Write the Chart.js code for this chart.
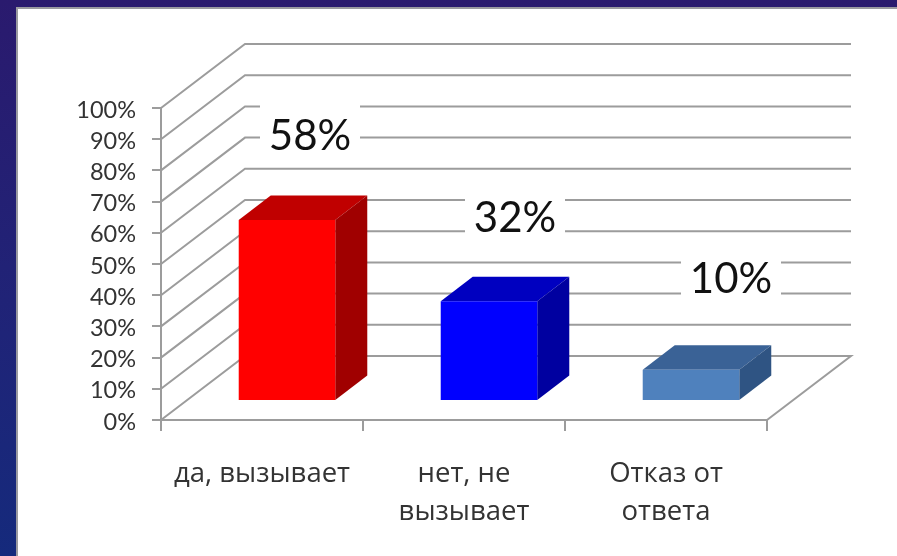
<!DOCTYPE html>
<html><head><meta charset="utf-8">
<style>
html,body{margin:0;padding:0;width:897px;height:556px;overflow:hidden;background:linear-gradient(180deg,#2a1a6e 0%,#1f2478 60%,#152a7c 100%)}
#panel{position:absolute;left:16px;top:7px;right:0;bottom:0;background:#fff;border-left:2px solid #9a9aa0;border-top:2px solid #9a9aa0}
#wrap{position:absolute;left:0;top:0;width:897px;height:556px}
</style>
<script src="https://cdn.jsdelivr.net/npm/chart.js@4"></script>
</head><body>
<div id="panel"></div>
<div id="wrap"><canvas id="c" width="897" height="556"></canvas></div>
<script>
const categories = [["да, вызывает"], ["нет, не", "вызывает"], ["Отказ от", "ответа"]];
const values = [58, 32, 10];
const frontColors = ["#ff0000", "#0000ff", "#4f81bd"];
const topColors = ["#c00000", "#0000c0", "#3a6296"];
const sideColors = ["#a00000", "#0000a0", "#2f5483"];
const yTicks = [0,10,20,30,40,50,60,70,80,90,100];

const WALL_DX = 84, WALL_DY = -64, WALL_RIGHT = 851;
const BAR_DX = 25, BAR_DY = -19, DEPTH_DX = 32, DEPTH_DY = -24.5;
const GRID = "#9c9c9c";
const labelPos = [[310,136],[515,218],[731,279]];

const threeD = {
  id: "threeD",
  beforeDatasetsDraw(chart) {
    const {ctx, scales: {y}, chartArea: a} = chart;
    ctx.save();
    ctx.strokeStyle = GRID; ctx.lineWidth = 2; ctx.lineJoin = "miter";
    yTicks.forEach(v => {
      const p = y.getPixelForValue(v);
      ctx.beginPath();
      ctx.moveTo(a.left, p);
      ctx.lineTo(a.left + WALL_DX, p + WALL_DY);
      ctx.lineTo(WALL_RIGHT, p + WALL_DY);
      if (v === 0) ctx.lineTo(a.right, p);
      ctx.stroke();
    });
    const meta = chart.getDatasetMeta(0);
    meta.data.forEach((b, i) => {
      const l = b.x - b.width / 2 + BAR_DX, r = b.x + b.width / 2 + BAR_DX;
      const t = b.y + BAR_DY, bt = b.base + BAR_DY;
      ctx.fillStyle = topColors[i];
      ctx.beginPath();
      ctx.moveTo(l, t); ctx.lineTo(l + DEPTH_DX, t + DEPTH_DY);
      ctx.lineTo(r + DEPTH_DX, t + DEPTH_DY); ctx.lineTo(r, t); ctx.closePath(); ctx.fill();
      ctx.fillStyle = sideColors[i];
      ctx.beginPath();
      ctx.moveTo(r, t); ctx.lineTo(r + DEPTH_DX, t + DEPTH_DY);
      ctx.lineTo(r + DEPTH_DX, bt + DEPTH_DY); ctx.lineTo(r, bt); ctx.closePath(); ctx.fill();
    });
    ctx.restore();
  },
  beforeDatasetDraw(chart) {
    chart.ctx.save();
    chart.ctx.translate(BAR_DX, BAR_DY);
  },
  afterDatasetDraw(chart) {
    chart.ctx.restore();
  },
  afterDatasetsDraw(chart) {
    const {ctx} = chart;
    ctx.save();
    ctx.font = "42px Lato";
    ctx.textAlign = "center"; ctx.textBaseline = "middle";
    values.forEach((v, i) => {
      const [x, y] = labelPos[i];
      ctx.fillStyle = "#fff";
      ctx.fillRect(x - 50, y - 33, 100, 61);
      ctx.fillStyle = "#111";
      ctx.fillText(v + "%", x, y);
    });
    ctx.restore();
  }
};

new Chart(document.getElementById("c"), {
  type: "bar",
  data: { labels: categories, datasets: [{ data: values, backgroundColor: frontColors, borderWidth: 0, categoryPercentage: 1, barPercentage: 0.478, clip: false }] },
  options: {
    responsive: false, animation: false,
    layout: { padding: { left: 60, right: 130, top: 108, bottom: 0 } },
    plugins: { legend: { display: false }, tooltip: { enabled: false } },
    scales: {
      x: {
        grid: { offset: true, drawOnChartArea: false, color: GRID, lineWidth: 2, tickLength: 11 },
        border: { color: GRID, width: 2 },
        ticks: { color: "#333", font: { family: "'Open Sans'", size: 27.5, lineHeight: 1.38 }, padding: 24.5, maxRotation: 0, autoSkip: false },
        afterFit(s) { s.height = 136; }
      },
      y: {
        min: 0, max: 100,
        grid: { drawOnChartArea: false, color: GRID, lineWidth: 2, tickLength: 9 },
        border: { color: GRID, width: 2 },
        ticks: { stepSize: 10, color: "#333", font: { family: "Lato", size: 23.5 }, padding: 16, labelOffset: 2, callback: v => v + "%" },
        afterFit(s) { s.width = 101; }
      }
    }
  },
  plugins: [threeD]
});
</script>
</body></html>
